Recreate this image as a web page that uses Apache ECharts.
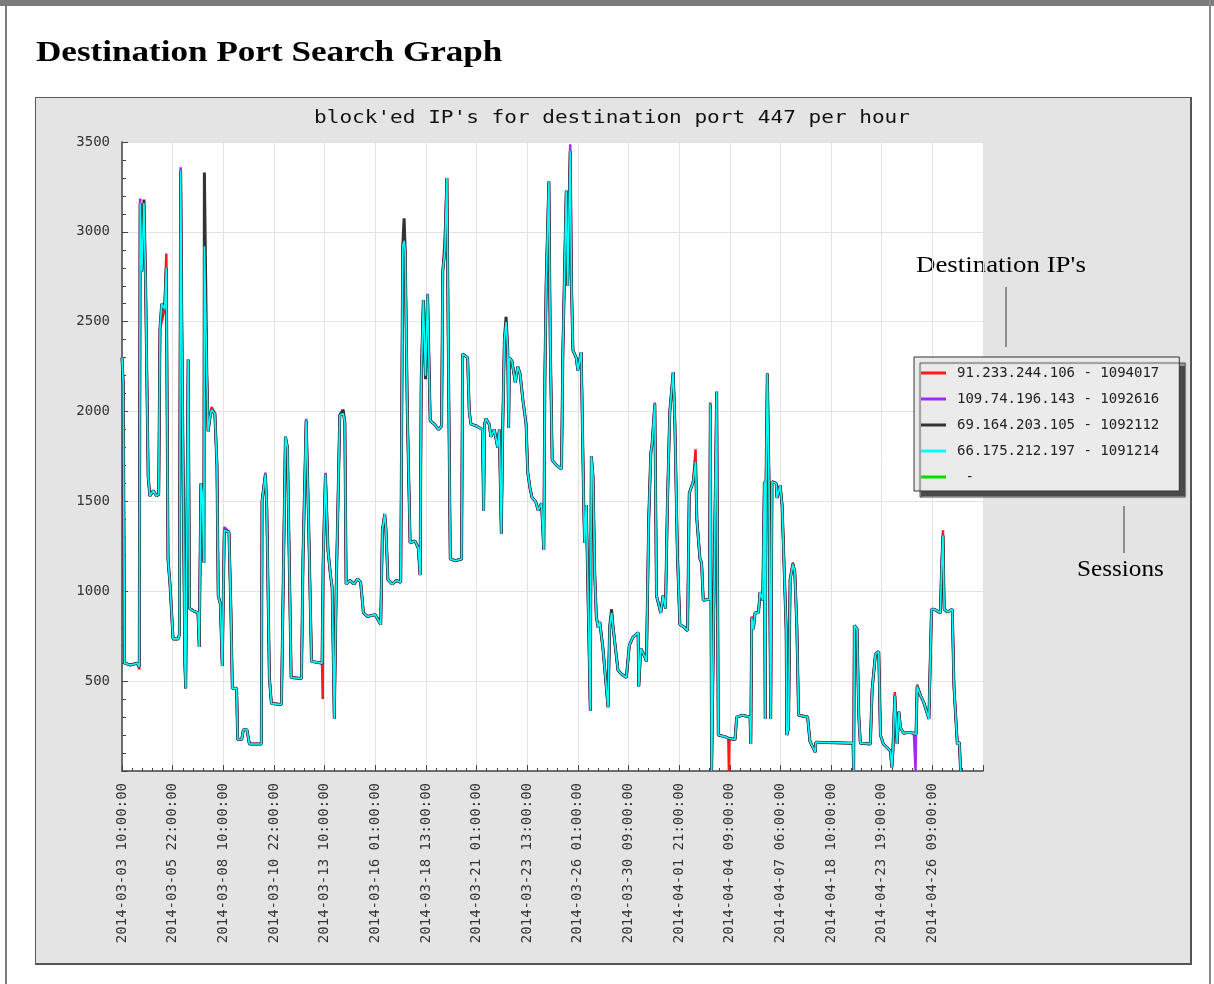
<!DOCTYPE html>
<html>
<head>
<meta charset="utf-8">
<title>Destination Port Search Graph</title>
<script src="https://cdn.jsdelivr.net/npm/echarts@6/dist/echarts.min.js"></script>
<style>
    html, body { margin: 0; padding: 0; background: #fff; }
    #page { position: relative; width: 1214px; height: 984px; overflow: hidden; }
    .frame-top { position: absolute; left: 0; top: 0; width: 1214px; height: 6px; background: #7b7b7b; }
    .frame-left { position: absolute; left: 5px; top: 0; width: 2px; height: 984px; background: #7b7b7b; }
    .frame-right { position: absolute; left: 1209px; top: 0; width: 2px; height: 984px; background: #8a8a8a; }
    #panel { position: absolute; left: 35px; top: 97px; width: 1154px; height: 865px; background: #e4e4e4;
             border: 1px solid #5a5a5a; border-right: 2px solid #555; border-bottom: 2px solid #555; }
    #chart { position: absolute; left: 0; top: 0; width: 1214px; height: 984px; }
</style>
</head>
<body>
<div id="page">
    <div class="frame-top"></div>
    <div class="frame-left"></div>
    <div class="frame-right"></div>
    <div id="panel"></div>
    <div id="chart"></div>
</div>
<script>
// x tick labels, one every 60 hourly samples
const tickLabels = [
    '2014-03-03 10:00:00', '2014-03-05 22:00:00', '2014-03-08 10:00:00', '2014-03-10 22:00:00',
    '2014-03-13 10:00:00', '2014-03-16 01:00:00', '2014-03-18 13:00:00', '2014-03-21 01:00:00',
    '2014-03-23 13:00:00', '2014-03-26 01:00:00', '2014-03-30 09:00:00', '2014-04-01 21:00:00',
    '2014-04-04 09:00:00', '2014-04-07 06:00:00', '2014-04-18 10:00:00', '2014-04-23 19:00:00',
    '2014-04-26 09:00:00'
]

const hostNames = [
    '91.233.244.106 - 1094017',
    '109.74.196.143 - 1092616',
    '69.164.203.105 - 1092112',
    '66.175.212.197 - 1091214',
    ' -'
]
const hostColors = ['#ff1a1a', '#a12bf0', '#333333', '#00ffff', '#00dd00']

// [sample index (hours), sessions] read along the cyan trace, which lies on top of the others
const cyanTrace = [
    [0,2300],[1.5,2150],[3,600],[10,590],[18,600],[20.5,580],[21.5,3160],[23.5,2780],[26,3160],[28,2700],
    [31,1640],[33,1530],[37,1560],[41,1530],[43.5,1540],[45,2460],[47,2600],[50.5,2570],[52.5,2800],[54.5,1180],
    [57,1030],[60.5,735],[66.5,735],[68,760],[69.5,3340],[71,2400],[74.5,590],[75.5,460],[78.4,2290],[80,905],
    [85,890],[90,880],[91.5,690],[93.5,1600],[95,1545],[97,1160],[97.6,2920],[100.5,2200],[102,1890],[104,1960],
    [106,2010],[110,1990],[112.5,1700],[114,975],[116.5,930],[118.8,585],[121.2,1340],[126.7,1330],[129,900],[130.7,460],
    [135.8,460],[137,175],[141.8,175],[143.8,230],[148,230],[150.9,150],[165.1,150],[165.9,1500],[169.9,1650],[171.5,1470],
    [174.6,520],[177,375],[188.9,370],[193.6,1860],[196,1800],[200.4,520],[212.6,515],[214.5,1200],[218.2,1950],[221,1400],
    [224.5,610],[237,600],[237.8,600],[238.3,1155],[240,1160],[241,1650],[244,1230],[247,1090],[249,1020],[251.5,290],
    [253.8,1020],[256,1030],[258,1980],[262,1990],[264,1940],[265.5,1040],[270,1060],[275,1040],[279,1070],[282.7,1050],
    [286,880],[290.6,860],[300,870],[306.5,815],[308.5,1340],[311.2,1430],[312.5,1360],[315,1065],[320,1040],[325,1060],
    [330.2,1050],[332.6,2920],[334.2,2950],[335.5,2890],[338,2000],[341.3,1270],[347,1280],[351,1240],[353.2,1090],[354.5,2180],
    [357,2620],[359.5,2200],[362,2650],[364,2200],[365.1,1950],[370,1930],[375,1900],[378.6,1920],[380,2780],[382.5,2900],
    [384.9,3300],[386.5,2400],[388.9,1180],[395,1170],[402.3,1180],[403.5,2320],[409.4,2300],[411.4,2000],[413.4,1930],[420,1920],
    [427,1900],[428.4,1450],[429.5,1930],[431.2,1960],[435,1930],[437,1860],[441,1900],[445,1800],[447,1900],[449.4,1320],
    [451,1900],[453,2400],[455,2500],[457,2340],[458,1910],[459,2300],[462,2280],[466,2160],[468.8,2250],[471.6,2210],
    [474.8,2070],[478.7,1930],[480.7,1660],[483.5,1570],[485.9,1520],[490,1500],[493,1450],[497,1490],[499.7,1230],[501,2200],
    [502.5,2710],[505.7,3280],[507.3,2400],[509.6,1730],[515,1700],[520.7,1680],[522.3,2340],[526.3,3230],[528,2700],[531,3450],
    [532.5,2700],[534.2,2340],[538.1,2300],[540,2230],[544,2330],[547,1480],[548,1270],[550,1480],[554.8,335],[556,1750],
    [558,1640],[560,1100],[561.9,860],[564,800],[566,830],[569.8,680],[575.8,355],[577.7,800],[580,880],[582,790],
    [587.6,560],[591.6,540],[597.5,520],[601,700],[605.5,745],[611.4,770],[612.2,470],[614.6,680],[618,650],[621.3,610],
    [624,1400],[626.5,1770],[628,1820],[631.2,2040],[633.2,975],[638.3,880],[641,975],[643.9,905],[646.2,1500],[649,2000],
    [653,2220],[655,1930],[658,1200],[660.9,815],[666,800],[670,780],[672,1545],[676.7,1610],[679.5,1720],[681,1400],
    [684.7,1180],[686.6,1160],[688.6,950],[696,955],[697,2040],[698.5,0],[700,0],[704.5,2110],[706.4,200],[715,190],
    [718.3,182],[719,180],[719.7,180],[726.2,175],[728.2,300],[735,310],[744,300],[744.9,150],[746,850],[748,790],[750,880],[754,880],
    [755.9,995],[759.1,950],[761,1610],[762,290],[763,1610],[764.5,2210],[766.5,1610],[768.5,290],[770,1610],[775,1600],
    [776,1520],[779.7,1590],[782,1480],[786.8,790],[787.6,200],[789.6,240],[791.5,1065],[794.8,1150],[797,1110],[799.5,800],
    [801.5,310],[812.2,300],[815,165],[821.3,105],[822,160],[866,155],[866.8,0],[867.6,810],[870.8,790],[872.8,310],
    [874.7,155],[886.6,150],[888.6,450],[892.6,650],[896.5,665],[898.5,200],[902,150],[906.4,130],[910.4,110],[912,20],
    [913.2,105],[915.5,420],[918.3,150],[920.3,330],[922.3,240],[926,210],[932,215],[938.1,210],[939.5,205],[940.1,200],[940.7,205],[942,470],
    [946,420],[950,380],[955.9,290],[959,900],[962,900],[966,890],[969.5,880],[971,1130],[972.6,1310],[974,900],
    [978,885],[983.6,900],[985.6,470],[989.6,150],[992,160],[993.5,0]
]

// where the hidden hosts show past the cyan line: [sample index, sessions]
const redTips = [[20.5,565],[47,2460],[52.5,2880],[106,2025],[237.8,400],[382.5,2980],[679.5,1790],
    [697,2050],[719,0],[746,860],[794.8,1160],[915.5,440],[942,480],[972.6,1340]]
const purpleTips = [[21.5,3185],[69.5,3360],[121.2,1357],[169.9,1660],[218.2,1960],[241,1660],[362,2655],
    [526.3,3215],[531,3487],[631.2,2050],[764.5,2215],[940.1,0]]
const blackTips = [[26,3180],[97.6,3330],[262,2010],[334.2,3076],[359.5,2180],[455,2527],[580,900]]

const withTips = (tips) => {
    const m = new Map(tips)
    return cyanTrace.map(([h, v]) => [h, m.has(h) ? m.get(h) : v])
}

const lineSeries = (i, data, width) => ({
    name: hostNames[i],
    type: 'line',
    data: data,
    showSymbol: false,
    symbol: 'none',
    color: hostColors[i],
    lineStyle: { width: width, color: hostColors[i] },
    emphasis: { disabled: true }
})

const chart = echarts.init(document.getElementById('chart'))
chart.setOption({
    animation: false,
    backgroundColor: 'transparent',
    grid: {
        left: 122, top: 142, width: 861, height: 629,
        show: true, backgroundColor: '#ffffff', borderWidth: 0,
        containLabel: false, outerBoundsMode: 'none'
    },
    xAxis: {
        type: 'value', min: 0, max: 1020, interval: 60,
        axisLine: { show: true, lineStyle: { color: '#444', width: 1.5 } },
        axisTick: { show: true, inside: true, length: 6, lineStyle: { color: '#444' } },
        minorTick: { show: true, splitNumber: 5, length: 3, lineStyle: { color: '#444' } },
        splitLine: { show: true, lineStyle: { color: '#e3e3e3', width: 1 } },
        axisLabel: {
            rotate: 90, margin: 12, color: '#333',
            fontFamily: '"DejaVu Sans Mono", monospace', fontSize: 14,
            formatter: (v) => tickLabels[Math.round(v / 60)] || ''
        }
    },
    yAxis: {
        type: 'value', min: 0, max: 3500, interval: 500,
        axisLine: { show: true, lineStyle: { color: '#444', width: 1.5 } },
        axisTick: { show: true, inside: true, length: 6, lineStyle: { color: '#444' } },
        minorTick: { show: true, splitNumber: 5, length: 4, lineStyle: { color: '#444' } },
        splitLine: { show: true, lineStyle: { color: '#e3e3e3', width: 1 } },
        axisLabel: {
            margin: 12, color: '#333',
            fontFamily: '"DejaVu Sans Mono", monospace', fontSize: 14,
            formatter: (v) => v === 0 ? '' : String(v)
        }
    },
    legend: {
        orient: 'vertical', left: 914, top: 357,
        data: hostNames,
        icon: 'rect', itemWidth: 25, itemHeight: 3, itemGap: 10,
        padding: [8, 20, 6, 7],
        backgroundColor: '#ebebeb', borderColor: '#333', borderWidth: 1,
        shadowColor: '#4a4a4a', shadowBlur: 1, shadowOffsetX: 6, shadowOffsetY: 6,
        selectedMode: false,
        textStyle: {
            fontFamily: '"DejaVu Sans Mono", monospace', fontSize: 14, color: '#222',
            lineHeight: 16, padding: [0, 0, 0, 6]
        }
    },
    graphic: [
        { type: 'text', x: 36, y: 53, scaleX: 1.17,
          style: { text: 'Destination Port Search Graph', font: 'bold 30px "Liberation Serif", serif',
                   fill: '#000', verticalAlign: 'middle', textVerticalAlign: 'middle' } },
        { type: 'text', x: 612, y: 118, scaleX: 1.17,
          style: { text: "block'ed IP's for destination port 447 per hour", font: '18px "DejaVu Sans Mono", monospace',
                   fill: '#111', textAlign: 'center', align: 'center', verticalAlign: 'middle', textVerticalAlign: 'middle' } },
        { type: 'text', x: 916, y: 266, scaleX: 1.12,
          style: { text: "Destination IP's", font: '24px "Liberation Serif", serif',
                   fill: '#000', verticalAlign: 'middle', textVerticalAlign: 'middle' } },
        { type: 'line', shape: { x1: 1006, y1: 287, x2: 1006, y2: 347 }, style: { stroke: '#555', lineWidth: 1.2 } },
        { type: 'line', shape: { x1: 1124, y1: 506, x2: 1124, y2: 553 }, style: { stroke: '#555', lineWidth: 1.2 } },
        { type: 'text', x: 1077, y: 570, scaleX: 1.05,
          style: { text: 'Sessions', font: '24px "Liberation Serif", serif',
                   fill: '#000', verticalAlign: 'middle', textVerticalAlign: 'middle' } }
    ],
    series: [
        lineSeries(0, withTips(redTips), 2.5),
        lineSeries(1, withTips(purpleTips), 2.5),
        lineSeries(2, withTips(blackTips), 3),
        lineSeries(3, cyanTrace, 1.6),
        lineSeries(4, [], 2)
    ]
})
</script>
</body>
</html>
